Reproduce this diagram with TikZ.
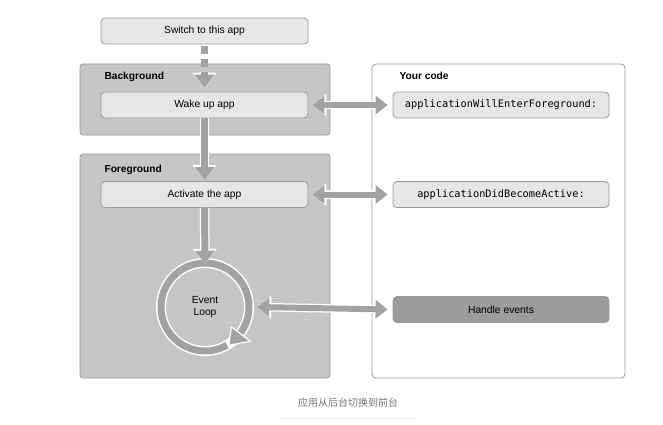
\documentclass[tikz,border=0pt]{standalone}
\usepackage{fontspec}
\setmainfont{Liberation Sans}
\newfontfamily\codefont{DejaVu Sans Mono}
\newfontfamily\cjk{Noto Sans CJK SC}
\usetikzlibrary{arrows.meta,calc}
\definecolor{panelgray}{HTML}{C6C6C6}
\definecolor{boxfill}{HTML}{E6E6E6}
\definecolor{boxline}{HTML}{9A9A9A}
\definecolor{arrowgray}{HTML}{A2A2A2}
\definecolor{handlefill}{HTML}{9C9C9C}
\tikzset{
  panel/.style={draw=boxline, fill=panelgray, rounded corners=3pt, line width=0.8pt},
  codepanel/.style={draw=boxline, fill=white, rounded corners=4pt, line width=0.8pt},
  stepbox/.style={draw=boxline, fill=boxfill, rounded corners=4pt, line width=0.8pt,
     minimum width=207pt, minimum height=26pt, inner sep=0pt, font=\fontsize{10.3}{12}\selectfont},
  codebox/.style={stepbox, minimum width=216pt, font=\codefont\fontsize{10.3}{12}\selectfont},
  paneltitle/.style={anchor=base west, font=\bfseries\fontsize{10.2}{12}\selectfont},
  fatarrow/.style={line width=7pt, arrowgray,
     -{Triangle[length=13pt,width=19pt]},
     preaction={draw=white, line width=9.5pt, -{Triangle[length=15pt,width=23pt]}}},
  fatdouble/.style={line width=6pt, arrowgray,
     {Triangle[length=12pt,width=18pt]}-{Triangle[length=12pt,width=18pt]},
     preaction={draw=white, line width=8.5pt, {Triangle[length=14pt,width=22pt]}-{Triangle[length=14pt,width=22pt]}}},
}
\begin{document}
\begin{tikzpicture}[x=1pt,y=-1pt]
\useasboundingbox (0,0) rectangle (663,425);
\fill[white] (0,0) rectangle (663,425);

% panels
\draw[panel] (80,64) rectangle (330,135);
\node[paneltitle] (bgtitle) at (101,80) {Background};
\draw[panel] (80,154) rectangle (330,378);
\node[paneltitle] (fgtitle) at (101,172) {Foreground};
\draw[codepanel] (372,64) rectangle (625,378);
\node[paneltitle] (yctitle) at (396,80) {Your code};

% left boxes
\node[stepbox] (switch) at (204.5,31) {Switch to this app};
\node[stepbox] (wake) at (204.5,105) {Wake up app};
\node[stepbox] (activate) at (204.5,194.5) {Activate the app};

% right boxes
\node[codebox] (willenter) at (501,105) {applicationWillEnterForeground:};
\node[codebox] (didbecome) at (501,194.5) {applicationDidBecomeActive:};
\node[codebox, fill=handlefill, font=\fontsize{10.3}{12}\selectfont] (handle) at (501,309.5) {Handle events};

% event loop
\node[circle, minimum size=82pt, inner sep=0pt, align=center, font=\fontsize{10.3}{12.5}\selectfont] (loop) at (205,307) {Event\\Loop};
\draw[white, line width=10pt] (loop.center) circle[radius=44];
\draw[arrowgray, line width=7pt] (loop.center) ++(60:44) arc[start angle=60, end angle=402, radius=44];
\draw[draw=white, fill=arrowgray, line width=1.2pt, line join=round]
  ($(loop.center)+(37:33)$) -- ($(loop.center)+(58:45)$) -- ($(loop.center)+(37:57)$) -- cycle;

% vertical flow arrows
\draw[arrowgray, line width=7pt, dash pattern=on 8pt off 5pt] ($(switch.south)+(0,2)$) -- ++(0,21);
\draw[fatarrow] ($(switch.south)+(0,28)$) -- ($(wake.north)+(0,-4)$);
\draw[fatarrow] (wake.south) -- ($(activate.north)+(0,-1)$);
\draw[fatarrow] (activate.south) -- ($(loop.north)+(0,-2)$);

% horizontal double arrows
\draw[fatdouble] ($(wake.east)+(4,0)$) -- ($(willenter.west)+(-5,0)$);
\draw[fatdouble] ($(activate.east)+(4,0)$) -- ($(didbecome.west)+(-5,0)$);
\draw[fatdouble] ($(loop.east)+(11,0)$) -- ($(handle.west)+(-5,0)$);

% caption
\node[font=\cjk\fontsize{10}{12}\selectfont, text=black!55] (caption) at (348,402.5) {应用从后台切换到前台};
\coordinate (ruleL) at (280,418.5);
\coordinate (ruleR) at (417,418.5);
\draw[black!8, line width=0.8pt] (ruleL) -- (ruleR);
\end{tikzpicture}
\end{document}
